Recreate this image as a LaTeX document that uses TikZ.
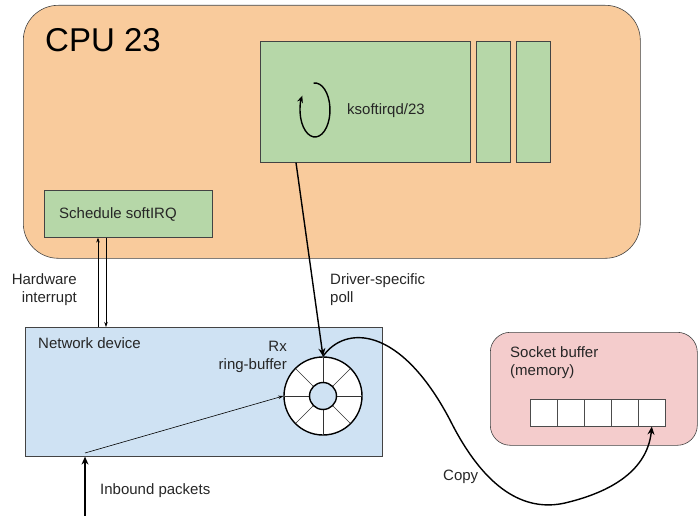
\documentclass[tikz,border=0pt]{standalone}
\usepackage{fontspec}
\setmainfont{Liberation Sans}
\usetikzlibrary{arrows.meta,calc}
\definecolor{cpuorange}{HTML}{F9CB9C}
\definecolor{boxgreen}{HTML}{B6D7A8}
\definecolor{devblue}{HTML}{CFE2F3}
\definecolor{sockpink}{HTML}{F4CCCC}
\definecolor{edge}{HTML}{434343}
\begin{document}
\begin{tikzpicture}[x=1pt,y=-1pt,
  box/.style={draw=edge, line width=0.6pt, inner sep=0pt, anchor=north west},
  lbl/.style={font=\fontsize{15}{18}\selectfont, inner sep=0pt, text=black!85},
  thinarrow/.style={draw=black, line width=0.6pt, -{Stealth[length=5pt,width=3.5pt]}},
  thickarrow/.style={draw=black, line width=1.4pt, -{Stealth[length=8pt,width=7pt]}}]
\useasboundingbox (0,0) rectangle (699,516);
% CPU
\node[box, fill=cpuorange, rounded corners=35pt, minimum width=617pt, minimum height=253pt] (cpu) at (23,5) {};
\node[inner sep=0pt, anchor=base west, font=\fontsize{33}{36}\selectfont] (cputitle) at (45,52) {CPU 23};
\node[box, fill=boxgreen, minimum width=210pt, minimum height=121pt] (ksoft) at (260,41) {};
\node[box, fill=boxgreen, minimum width=34pt, minimum height=121pt] (sm1) at (476,41) {};
\node[box, fill=boxgreen, minimum width=34pt, minimum height=121pt] (sm2) at (516,41) {};
\node[lbl, anchor=west] (ksofttxt) at (347,111) {ksoftirqd/23};
\coordinate (loopc) at (315,110);
\draw[line width=1.4pt, -{Stealth[length=7pt,width=6pt]}] ($(loopc)+({15*cos(-95)},{27*sin(-95)})$) arc[start angle=-95, end angle=212, x radius=15, y radius=27];
\node[box, fill=boxgreen, minimum width=168pt, minimum height=47pt] (sched) at (44,190) {};
\node[lbl, anchor=west] (schedtxt) at (59,214) {Schedule softIRQ};
% Network device
\node[box, fill=devblue, minimum width=357pt, minimum height=129pt] (net) at (25,327) {};
\node[lbl, anchor=west] (nettxt) at (38,343) {Network device};
\node[lbl, anchor=north east, align=right] (rxtxt) at (287,341) {Rx\\ring-buffer};
% ring
\node[draw=black, line width=1.4pt, fill=white, circle, minimum size=78pt, inner sep=0pt] (ring) at (323,396) {};
\foreach \a in {0,45,...,315}
  \draw[line width=0.6pt, black!80] ($(ring.center)+(\a:13.5pt)$) -- ($(ring.center)+(\a:38.5pt)$);
\node[draw=black, line width=1.4pt, fill=devblue, circle, minimum size=27pt, inner sep=0pt] (ringin) at (ring.center) {};
% socket buffer
\node[box, fill=sockpink, rounded corners=20pt, minimum width=207pt, minimum height=113pt] (sock) at (490,332) {};
\node[lbl, anchor=north west, align=left] (socktxt) at (510,346) {Socket buffer\\(memory)};
\foreach \i in {0,...,4}
  \node[draw=black!70, line width=0.6pt, fill=white, minimum width=27pt, minimum height=27pt, inner sep=0pt, anchor=north west] (cell\i) at (530+27*\i,399) {};
% labels
\node[lbl, anchor=north east, align=right] (hwtxt) at (77,273) {Hardware\\interrupt};
\node[lbl, anchor=north west, align=left] (drvtxt) at (330,273) {Driver-specific\\poll};
\node[lbl, anchor=west] (inbtxt) at (100,491) {Inbound packets};
\node[lbl, anchor=west] (copytxt) at (443,477) {Copy};
% connectors
\draw[thinarrow] (98,0 |- net.north) -- (98,0 |- sched.south);
\draw[thinarrow] (106,0 |- sched.south) -- (106,0 |- net.north);
\draw[thickarrow] (296,0 |- ksoft.south) -- (ring.north);
\coordinate (inb) at (85,516);
\draw[line width=1.4pt, -{Stealth[length=8pt,width=7pt]}] (inb) -- (85,0 |- net.south);
\draw[thinarrow] (85,453) -- (ring.west);
\draw[line width=1.4pt, -{Stealth[length=8pt,width=7pt]}] (ring.north) .. controls (345,325) and (400,325) .. (450,420)
  .. controls (485,490) and (525,512) .. (565,503)
  .. controls (620,490) and (648,465) .. (cell4.south);
\end{tikzpicture}
\end{document}
